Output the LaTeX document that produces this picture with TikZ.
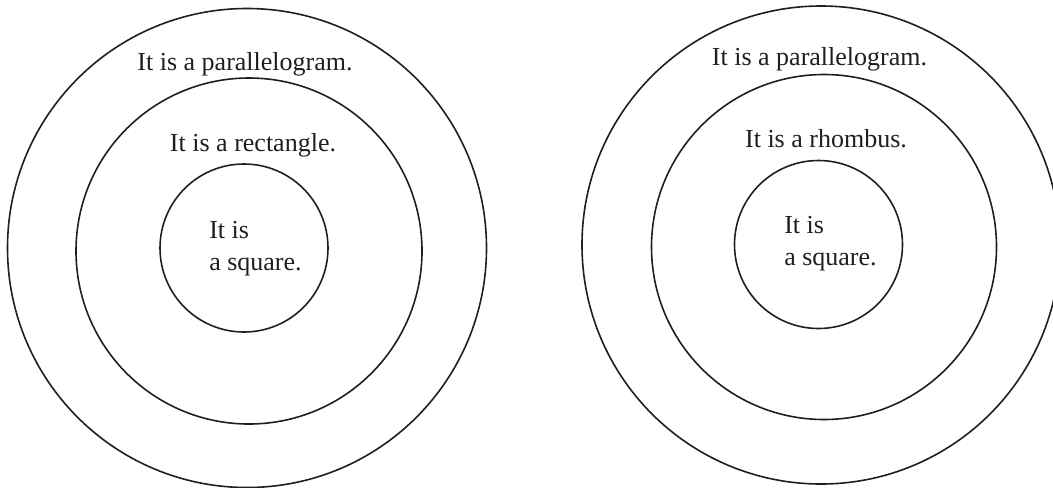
\documentclass[tikz,border=0pt]{standalone}
\usepackage{fontspec}
\setmainfont{Liberation Serif}
\usetikzlibrary{calc,positioning}
\colorlet{ink}{black!88}
\tikzset{
  ring/.style={ink, line width=1.2pt},
  lbl/.style={ink, inner sep=0pt, font=\fontsize{19.5}{24}\selectfont}
}

\begin{document}
\begin{tikzpicture}[x=0.75pt, y=-0.75pt]
        % Frame of the whole figure (the right outer ring is cut by it)
        \clip (0,0) rectangle (1053,487);
        % Centres of the two sets of rings
        \coordinate (L) at (247,248);
        \coordinate (R) at (821,245);
        % Left set: parallelogram, rectangle, square
        \draw[ring] (L) circle (239.5);
        \draw[ring] ($(L)+(2,3)$) circle (173);
        \draw[ring] ($(L)+(-3,0)$) circle (84);
        \node[lbl, anchor=base] (parL) at ($(L)+(-2,-178)$) {It is a parallelogram.};
        \node[lbl, anchor=base] (recL) at ($(L)+(6,-97)$) {It is a rectangle.};
        \node[lbl, anchor=base west] (sqL1) at ($(L)+(-38,-10)$) {It is};
        \node[lbl, anchor=base west] (sqL2) at ($(sqL1.base west)+(0,32)$) {a square.};
        % Right set: parallelogram, rhombus, square
        \draw[ring] (R) circle (239);
        \draw[ring] ($(R)+(3,2)$) circle (172.5);
        \draw[ring] ($(R)+(-2.5,-0.5)$) circle (84);
        \node[lbl, anchor=base] (parR) at ($(R)+(-1.5,-180)$) {It is a parallelogram.};
        \node[lbl, anchor=base] (rhoR) at ($(R)+(5,-98)$) {It is a rhombus.};
        \node[lbl, anchor=base west] (sqR1) at ($(R)+(-37,-12)$) {It is};
        \node[lbl, anchor=base west] (sqR2) at ($(sqR1.base west)+(0,32)$) {a square.};
      \end{tikzpicture}
\end{document}
